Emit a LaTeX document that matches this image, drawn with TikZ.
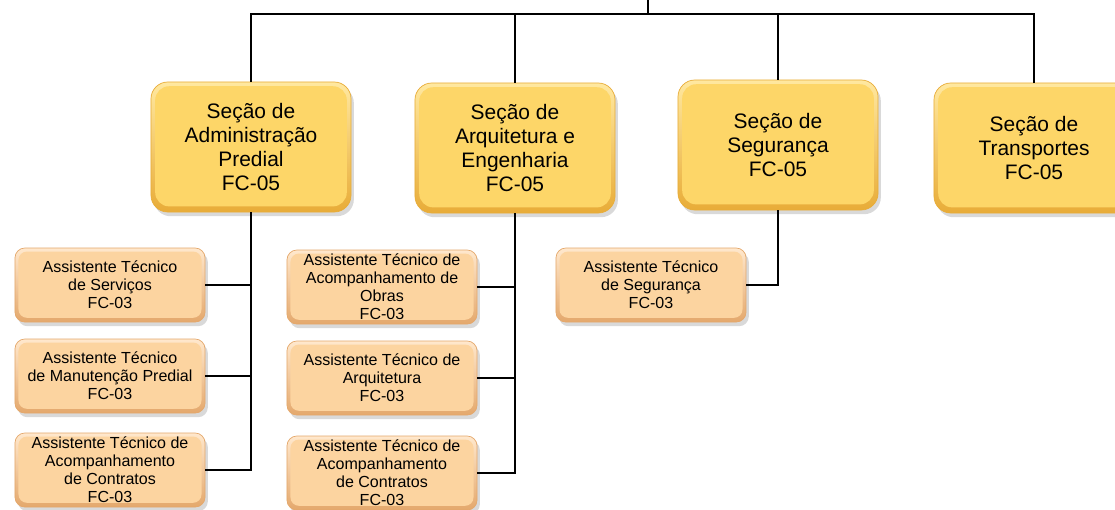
\documentclass[tikz,border=0pt]{standalone}
\usepackage{fontspec}
\setmainfont{Liberation Sans}
\usepackage{tikz}
\usetikzlibrary{shadows}

\definecolor{secfill}{RGB}{253,214,104}
\definecolor{sectop}{RGB}{255,232,160}
\definecolor{secline}{RGB}{232,172,56}
\definecolor{astfill}{RGB}{252,212,160}
\definecolor{asttop}{RGB}{255,232,205}
\definecolor{astline}{RGB}{228,168,108}

\begin{document}
\begin{tikzpicture}[x=0.025cm,y=-0.025cm,
  -,line width=1.2pt,
  sec/.style={draw=secline,top color=sectop,bottom color=secline,rectangle,rounded corners=12pt,minimum width=5cm,minimum height=3.25cm,inner sep=1pt,align=center,line width=0.5pt,font=\fontsize{14.9}{17.1}\selectfont,drop shadow={opacity=0.3,shadow xshift=2pt,shadow yshift=-3pt},
    path picture={\fill[secfill,rounded corners=10pt] ([shift={(3pt,-3pt)}]path picture bounding box.north west) rectangle ([shift={(-3pt,4pt)}]path picture bounding box.south east);}},
  ast/.style={draw=astline,top color=asttop,bottom color=astline,rectangle,rounded corners=7pt,minimum width=4.75cm,minimum height=1.85cm,inner sep=1pt,align=center,line width=0.5pt,font=\fontsize{11.4}{12.8}\selectfont,drop shadow={opacity=0.3,shadow xshift=2pt,shadow yshift=-3pt},
    path picture={\fill[astfill,rounded corners=6pt] ([shift={(2.5pt,-2.5pt)}]path picture bounding box.north west) rectangle ([shift={(-2.5pt,3pt)}]path picture bounding box.south east);}}]
      \useasboundingbox (0,0) rectangle (1115,509);

      \coordinate (root) at (648,0);
      \coordinate (bus) at (648,14);

      \node [sec] (s1) at (251,147) {Seção de\\Administração\\Predial\\FC-05};
      \node [sec] (s2) at (515,148) {Seção de\\Arquitetura e\\Engenharia\\FC-05};
      \node [sec] (s3) at (778,145) {Seção de\\Segurança\\FC-05};
      \node [sec] (s4) at (1034,148) {Seção de\\Transportes\\FC-05};

      \node [ast] (a1) at (110,285) {Assistente Técnico\\de Serviços\\FC-03};
      \node [ast] (a2) at (110,376) {Assistente Técnico\\de Manutenção Predial\\FC-03};
      \node [ast] (a3) at (110,470) {Assistente Técnico de\\Acompanhamento\\de Contratos\\FC-03};

      \node [ast] (b1) at (382,287) {Assistente Técnico de\\Acompanhamento de\\Obras\\FC-03};
      \node [ast] (b2) at (382,378) {Assistente Técnico de\\Arquitetura\\FC-03};
      \node [ast] (b3) at (382,473) {Assistente Técnico de\\Acompanhamento\\de Contratos\\FC-03};

      \node [ast] (c1) at (651,285) {Assistente Técnico\\de Segurança\\FC-03};

      \draw (root) -- (bus);
      \draw (s1.north) |- (bus) -| (s4.north);
      \draw (s2.north) -- (s2.north |- bus);
      \draw (s3.north) -- (s3.north |- bus);

      \draw (s1.south) |- (a3.east);
      \draw (a1.east) -- (a1.east -| s1.south);
      \draw (a2.east) -- (a2.east -| s1.south);

      \draw (s2.south) |- (b3.east);
      \draw (b1.east) -- (b1.east -| s2.south);
      \draw (b2.east) -- (b2.east -| s2.south);

      \draw (s3.south) |- (c1.east);
\end{tikzpicture}
\end{document}
